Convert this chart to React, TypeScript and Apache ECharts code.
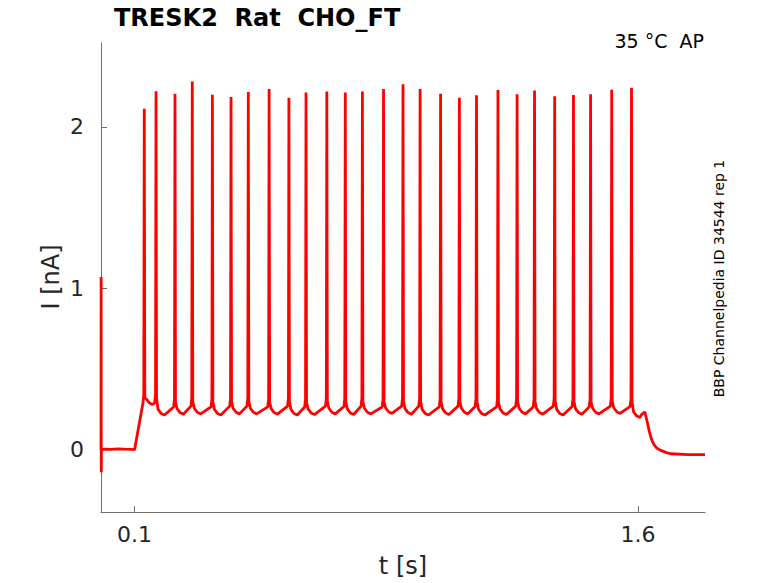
import React, { useEffect, useRef } from "react";
import * as echarts from "echarts";

// ---- data ----
const xTicks = [0.1, 1.6];
const yTicks = [0, 1, 2];

// trace before the step (time s, current nA)
const startT = [0, 0.0004, 0.0008, 0.0013, 0.002, 0.01, 0.03, 0.05, 0.07, 0.09, 0.1];
const startI = [0.0, 1.07, -0.14, 0.01, 0.0, 0.004, 0.002, 0.005, 0.003, 0.002, 0.0];

// action-potential spikes
const spikeT = [0.129, 0.164, 0.2205, 0.272, 0.332, 0.3875, 0.439, 0.501, 0.56, 0.611, 0.673, 0.728, 0.779, 0.842, 0.9, 0.951, 1.012, 1.068, 1.119, 1.183, 1.24, 1.292, 1.352, 1.408, 1.459, 1.522, 1.581];
const spikePeak = [2.112, 2.221, 2.205, 2.281, 2.2, 2.186, 2.217, 2.235, 2.18, 2.214, 2.219, 2.213, 2.219, 2.235, 2.264, 2.235, 2.206, 2.18, 2.196, 2.229, 2.202, 2.225, 2.19, 2.198, 2.202, 2.231, 2.242];
// level just before each spike's cusp
const preI = [0.29, 0.29, 0.265, 0.27, 0.265, 0.27, 0.27, 0.265, 0.27, 0.265, 0.27, 0.268, 0.27, 0.265, 0.27, 0.27, 0.265, 0.27, 0.268, 0.265, 0.27, 0.265, 0.27, 0.268, 0.265, 0.27, 0.268];
// trough level after each spike
const troughI = [0.28, 0.215, 0.22, 0.222, 0.215, 0.222, 0.222, 0.22, 0.215, 0.218, 0.222, 0.218, 0.222, 0.225, 0.22, 0.215, 0.218, 0.222, 0.215, 0.218, 0.222, 0.22, 0.215, 0.22, 0.222, 0.225, 0.2];

// trace after the step
const endT = [1.611, 1.621, 1.628, 1.634, 1.638, 1.643, 1.648, 1.656, 1.668, 1.685, 1.698, 1.75, 1.8];
const endI = [0.218, 0.234, 0.17, 0.115, 0.082, 0.052, 0.031, 0.01, -0.004, -0.018, -0.025, -0.03, -0.031];

function buildTrace(): [number, number][] {
  const pts: [number, number][] = [];
  startT.forEach((t, i) => pts.push([t, startI[i]]));
  spikeT.forEach((ts, i) => {
    pts.push([ts - 0.004, preI[i]]);
    pts.push([ts - 0.0015, preI[i] + 0.05]);
    pts.push([ts, spikePeak[i]]);
    pts.push([ts + 0.0015, preI[i] + 0.03]);
    pts.push([ts + 0.006, troughI[i] + 0.035]);
    pts.push([ts + 0.015, troughI[i] + 0.01]);
    pts.push([ts + 0.025, troughI[i]]);
  });
  endT.forEach((t, i) => pts.push([t, endI[i]]));
  return pts;
}

const FONT = "DejaVu Sans";
const AXIS_COLOR = "#6e6e6e";
const TEXT_COLOR = "#262626";

export default function App() {
  const ref = useRef<HTMLDivElement>(null);
  useEffect(() => {
    if (!ref.current) return;
    const chart = echarts.init(ref.current, null, { renderer: "svg" });
    chart.setOption({
      animation: false,
      backgroundColor: "#ffffff",
      grid: { left: 101, right: 73, top: 43, bottom: 71, containLabel: false, outerBoundsMode: "none" },
      xAxis: {
        type: "value",
        min: 0,
        max: 1.8,
        axisLine: { show: true, onZero: false, lineStyle: { color: AXIS_COLOR, width: 1 } },
        axisTick: { show: true, inside: true, length: 6, customValues: xTicks, lineStyle: { color: AXIS_COLOR } },
        axisLabel: {
          show: true,
          customValues: xTicks,
          formatter: (v: number) => v.toFixed(1),
          color: TEXT_COLOR,
          fontFamily: FONT,
          fontSize: 22,
          margin: 11,
        },
        splitLine: { show: false },
      },
      yAxis: {
        type: "value",
        min: -0.386,
        max: 2.52,
        axisLine: { show: true, onZero: false, lineStyle: { color: AXIS_COLOR, width: 1 } },
        axisTick: { show: true, inside: true, length: 6, customValues: yTicks, lineStyle: { color: AXIS_COLOR } },
        axisLabel: {
          show: true,
          customValues: yTicks,
          formatter: (v: number) => String(v),
          color: TEXT_COLOR,
          fontFamily: FONT,
          fontSize: 22,
          margin: 17,
        },
        splitLine: { show: false },
      },
      series: [
        {
          type: "line",
          data: buildTrace(),
          showSymbol: false,
          symbol: "none",
          clip: true,
          lineStyle: { color: "#ff0000", width: 2.8 },
        },
      ],
      graphic: [
        {
          type: "text",
          x: 114,
          y: 17.5,
          style: {
            text: "TRESK2  Rat  CHO_FT",
            font: `bold 24px "${FONT}"`,
            fill: "#000000",
            textAlign: "left",
            textVerticalAlign: "middle",
          },
        },
        {
          type: "text",
          x: 704,
          y: 40.5,
          style: {
            text: "35 °C  AP",
            font: `19px "${FONT}"`,
            fill: "#000000",
            textAlign: "right",
            textVerticalAlign: "middle",
          },
        },
        {
          type: "text",
          x: 718.5,
          y: 278.5,
          rotation: Math.PI / 2,
          style: {
            text: "BBP Channelpedia ID 34544 rep 1",
            font: `14px "${FONT}"`,
            fill: "#000000",
            textAlign: "center",
            textVerticalAlign: "middle",
          },
        },
        {
          type: "text",
          x: 51,
          y: 277,
          rotation: Math.PI / 2,
          style: {
            text: "I [nA]",
            font: `24px "${FONT}"`,
            fill: TEXT_COLOR,
            textAlign: "center",
            textVerticalAlign: "middle",
          },
        },
        {
          type: "text",
          x: 403,
          y: 566,
          style: {
            text: "t [s]",
            font: `24px "${FONT}"`,
            fill: TEXT_COLOR,
            textAlign: "center",
            textVerticalAlign: "middle",
          },
        },
      ],
    });
    return () => chart.dispose();
  }, []);
  return (
    <div
      ref={ref}
      style={{ position: "fixed", left: 0, top: 0, width: 778, height: 583, background: "#fff" }}
    />
  );
}
